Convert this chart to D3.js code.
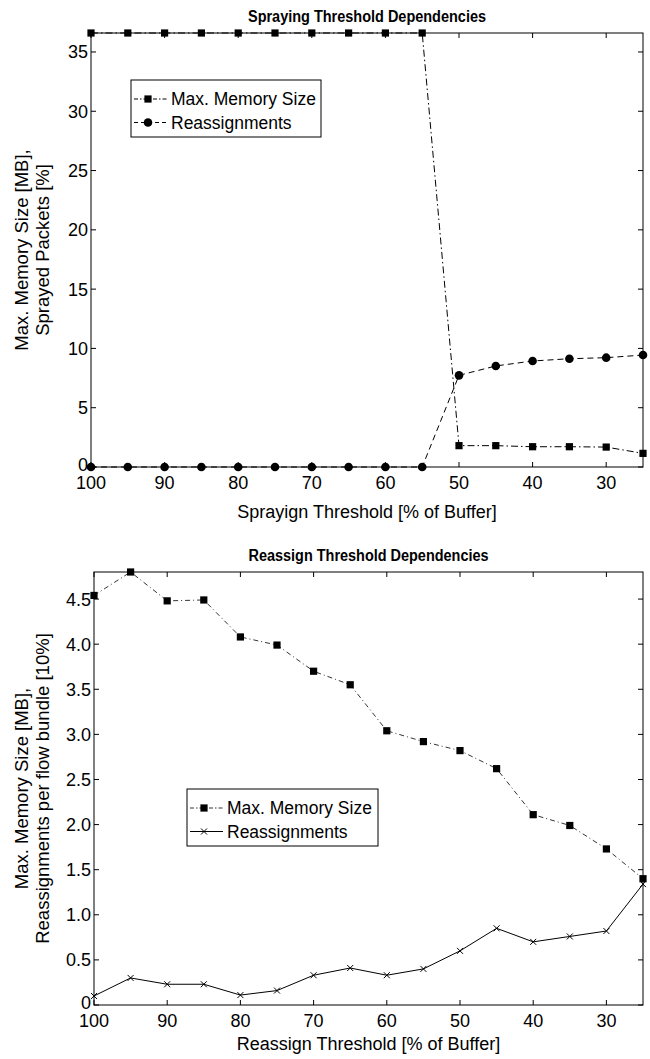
<!DOCTYPE html>
<html>
<head>
<meta charset="utf-8">
<script src="https://cdn.jsdelivr.net/npm/d3@7"></script>
<style>
  body { margin: 0; background: #fff; }
  svg { display: block; font-family: "Liberation Sans", Arial, sans-serif; }
</style>
</head>
<body>
<svg id="chart" width="650" height="1059"></svg>
<script>
// thresholds (x axis, reversed: 100 on the left)
const thresholds = [100, 95, 90, 85, 80, 75, 70, 65, 60, 55, 50, 45, 40, 35, 30, 25];
const xTicks = [100, 90, 80, 70, 60, 50, 40, 30];

// top panel: spraying threshold
const sprayMemory = [36.6, 36.6, 36.6, 36.6, 36.6, 36.6, 36.6, 36.6, 36.6, 36.6, 1.80, 1.80, 1.71, 1.71, 1.68, 1.15];
const sprayReassign = [0, 0, 0, 0, 0, 0, 0, 0, 0, 0, 7.73, 8.52, 8.94, 9.13, 9.22, 9.44];
const sprayYTicks = [0, 5, 10, 15, 20, 25, 30, 35];

// bottom panel: reassign threshold
const reMemory = [4.54, 4.80, 4.48, 4.49, 4.08, 3.99, 3.70, 3.55, 3.04, 2.92, 2.82, 2.62, 2.11, 1.99, 1.73, 1.40];
const reReassign = [0.10, 0.30, 0.23, 0.23, 0.11, 0.16, 0.33, 0.41, 0.33, 0.40, 0.60, 0.85, 0.70, 0.76, 0.82, 1.34];
const reYTicks = [0, 0.5, 1.0, 1.5, 2.0, 2.5, 3.0, 3.5, 4.0, 4.5];

const svg = d3.select('#chart');

const DASHDOT = '7,3,1.5,3';
const DASHED = '6,4';

function marker(sel, kind) {
  if (kind === 'square') {
    sel.append('rect').attr('x', -3.6).attr('y', -3.6).attr('width', 7.2).attr('height', 7.2).attr('fill', '#000');
  } else if (kind === 'circle') {
    sel.append('circle').attr('r', 4.3).attr('fill', '#000');
  } else if (kind === 'x') {
    sel.append('path').attr('d', 'M-3,-3L3,3M-3,3L3,-3').attr('stroke', '#000').attr('stroke-width', 1).attr('fill', 'none');
  }
}

function panel(cfg) {
  const x = d3.scaleLinear().domain([100, 25]).range([cfg.left, cfg.right]);
  const y = d3.scaleLinear().domain([0, cfg.ymax]).range([cfg.bottom, cfg.top]);
  const g = svg.append('g');

  // frame
  g.append('rect')
    .attr('x', cfg.left).attr('y', cfg.top)
    .attr('width', cfg.right - cfg.left).attr('height', cfg.bottom - cfg.top)
    .attr('fill', 'none').attr('stroke', '#000').attr('stroke-width', 1);

  // ticks inward on all four sides
  const tl = 5;
  xTicks.forEach(t => {
    g.append('line').attr('x1', x(t)).attr('x2', x(t)).attr('y1', cfg.bottom).attr('y2', cfg.bottom - tl).attr('stroke', '#000');
    g.append('line').attr('x1', x(t)).attr('x2', x(t)).attr('y1', cfg.top).attr('y2', cfg.top + tl).attr('stroke', '#000');
    g.append('text').attr('x', x(t)).attr('y', cfg.bottom + 22)
      .attr('text-anchor', 'middle').attr('font-size', 18).text(t);
  });
  cfg.yTicks.forEach(t => {
    g.append('line').attr('x1', cfg.left).attr('x2', cfg.left + tl).attr('y1', y(t)).attr('y2', y(t)).attr('stroke', '#000');
    g.append('line').attr('x1', cfg.right).attr('x2', cfg.right - tl).attr('y1', y(t)).attr('y2', y(t)).attr('stroke', '#000');
    g.append('text').attr('x', cfg.left - 3).attr('y', y(t) + (t === 0 ? 4 : 6.5))
      .attr('text-anchor', 'end').attr('font-size', 18).text(cfg.fmt(t));
  });

  // titles
  g.append('text').attr('x', (cfg.left + cfg.right) / 2).attr('y', cfg.top - 11)
    .attr('text-anchor', 'middle').attr('font-size', 16).attr('font-weight', 'bold')
    .attr('textLength', cfg.titleLen).attr('lengthAdjust', 'spacingAndGlyphs').text(cfg.title);
  g.append('text').attr('x', (cfg.left + cfg.right) / 2).attr('y', cfg.bottom + cfg.xlabelGap)
    .attr('text-anchor', 'middle').attr('font-size', 18).text(cfg.xlabel);
  const cy = (cfg.top + cfg.bottom) / 2;
  cfg.ylabel.forEach((line, i) => {
    g.append('text').attr('transform', `translate(${28 + i * 21},${cy}) rotate(-90)`)
      .attr('text-anchor', 'middle').attr('font-size', 18.5).text(line);
  });

  // series
  const line = d3.line().x(d => x(d[0])).y(d => y(d[1]));
  cfg.series.forEach(s => {
    const pts = thresholds.map((t, i) => [t, s.values[i]]);
    g.append('path').attr('d', line(pts)).attr('fill', 'none').attr('stroke', '#000')
      .attr('stroke-width', s.width || 1).attr('stroke-dasharray', s.dash || null);
    pts.forEach(p => {
      marker(g.append('g').attr('transform', `translate(${x(p[0])},${y(p[1])})`), s.marker);
    });
  });

  // legend
  const lg = cfg.legend;
  g.append('rect').attr('x', lg.x).attr('y', lg.y).attr('width', lg.w).attr('height', lg.h)
    .attr('fill', '#fff').attr('stroke', '#000').attr('stroke-width', 1);
  cfg.series.forEach((s, i) => {
    const ly = lg.y + 19 + i * 23.5;
    g.append('line').attr('x1', lg.x + 3).attr('x2', lg.x + 36).attr('y1', ly).attr('y2', ly)
      .attr('stroke', '#000').attr('stroke-width', s.width || 1).attr('stroke-dasharray', s.legendDash || s.dash || null);
    marker(g.append('g').attr('transform', `translate(${lg.x + 17},${ly})`), s.marker);
    g.append('text').attr('x', lg.x + 40).attr('y', ly + 6).attr('font-size', 17.5).text(s.name);
  });
}

panel({
  left: 91, right: 643, top: 33, bottom: 467, ymax: 36.6,
  yTicks: sprayYTicks, fmt: d => String(d),
  title: 'Spraying Threshold Dependencies', titleLen: 238,
  xlabel: 'Sprayign Threshold [% of Buffer]', xlabelGap: 51,
  ylabel: ['Max. Memory Size [MB],', 'Sprayed Packets [%]'],
  series: [
    { name: 'Max. Memory Size', values: sprayMemory, marker: 'square', dash: DASHDOT, legendDash: '4,2,1.5,2' },
    { name: 'Reassignments', values: sprayReassign, marker: 'circle', dash: DASHED, legendDash: '4,3' }
  ],
  legend: { x: 131, y: 80, w: 190, h: 57 }
});

panel({
  left: 94, right: 643, top: 572, bottom: 1005, ymax: 4.8,
  yTicks: reYTicks, fmt: d => d === 0 ? '0' : d3.format('.1f')(d),
  title: 'Reassign Threshold Dependencies', titleLen: 240,
  xlabel: 'Reassign Threshold [% of Buffer]', xlabelGap: 45,
  ylabel: ['Max. Memory Size [MB],', 'Reassignments per flow bundle [10%]'],
  series: [
    { name: 'Max. Memory Size', values: reMemory, marker: 'square', dash: '5,3,1,3', width: 0.8, legendDash: '4,2,1.5,2' },
    { name: 'Reassignments', values: reReassign, marker: 'x' }
  ],
  legend: { x: 187, y: 789, w: 191, h: 57 }
});
</script>
</body>
</html>
